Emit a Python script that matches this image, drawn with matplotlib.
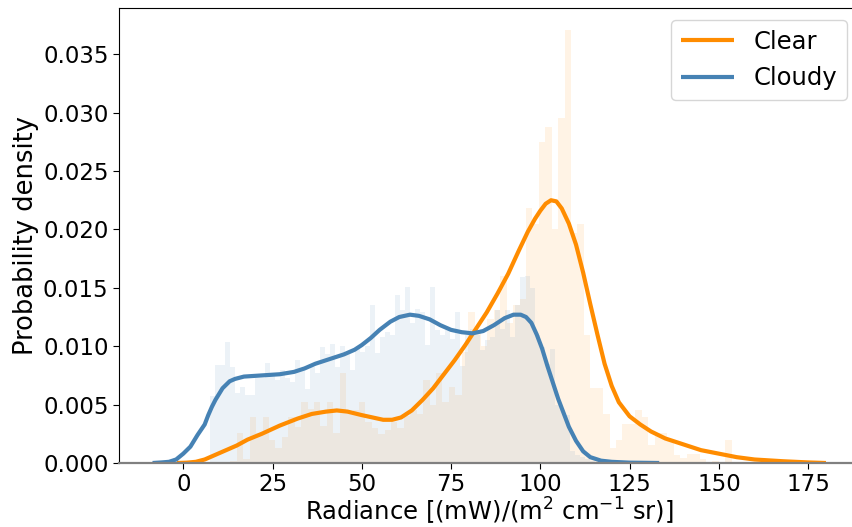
import numpy as np
import matplotlib.pyplot as plt

# histogram bar heights (probability density per bin)
clear_bin_start, clear_bin_width = 9.6, 1.8
clear_hist = [
    0.0000, 0.0000, 0.0002, 0.0026, 0.0003, 0.0039, 0.0026, 0.0039, 0.0020, 0.0013,
    0.0022, 0.0039, 0.0031, 0.0052, 0.0046, 0.0052, 0.0032, 0.0052, 0.0026, 0.0077,
    0.0043, 0.0045, 0.0052, 0.0035, 0.0030, 0.0025, 0.0028, 0.0035, 0.0030, 0.0040,
    0.0045, 0.0042, 0.0071, 0.0050, 0.0077, 0.0052, 0.0065, 0.0058, 0.0095, 0.0129,
    0.0114, 0.0100, 0.0123, 0.0131, 0.0160, 0.0120, 0.0135, 0.0140, 0.0218, 0.0205,
    0.0275, 0.0288, 0.0200, 0.0295, 0.0371, 0.0197, 0.0205, 0.0110, 0.0064, 0.0064,
    0.0042, 0.0013, 0.0020, 0.0033, 0.0033, 0.0045, 0.0039, 0.0015, 0.0026, 0.0026,
    0.0020, 0.0007, 0.0004, 0.0008, 0.0008, 0.0003, 0.0000, 0.0002, 0.0000, 0.0020,
]

cloudy_bin_start, cloudy_bin_width = 7.5, 1.4
cloudy_hist = [
    0.0057, 0.0084, 0.0084, 0.0104, 0.0082, 0.0060, 0.0065, 0.0058, 0.0058, 0.0073,
    0.0073, 0.0086, 0.0077, 0.0071, 0.0080, 0.0073, 0.0069, 0.0088, 0.0080, 0.0063,
    0.0082, 0.0077, 0.0099, 0.0093, 0.0102, 0.0082, 0.0100, 0.0093, 0.0080, 0.0099,
    0.0095, 0.0100, 0.0135, 0.0094, 0.0108, 0.0112, 0.0110, 0.0144, 0.0131, 0.0151,
    0.0120, 0.0132, 0.0129, 0.0101, 0.0151, 0.0114, 0.0110, 0.0114, 0.0106, 0.0129,
    0.0083, 0.0110, 0.0115, 0.0110, 0.0097, 0.0105, 0.0108, 0.0131, 0.0115, 0.0131,
    0.0108, 0.0135, 0.0159, 0.0160, 0.0150, 0.0110, 0.0099, 0.0085, 0.0098, 0.0050,
    0.0045, 0.0041, 0.0010, 0.0007, 0.0005, 0.0003, 0.0002, 0.0000, 0.0000, 0.0002,
]

# kernel density estimates
clear_kde_x = [
    -1.8, 1, 3.5, 6, 9, 12, 15, 18, 22, 27, 32, 36, 40, 43, 46, 50, 53, 56, 58.5, 61,
    64, 67, 70, 73, 76, 79, 82, 85, 88, 91, 94, 96.5, 98.5, 100, 101.5, 103, 104.5,
    106, 108, 110, 112, 114, 116, 118, 120, 122, 125, 128, 131, 135, 140, 145, 150,
    155, 160, 168, 175, 180,
]
clear_kde_y = [
    0.0, 0.00003, 0.0001, 0.0003, 0.0007, 0.0011, 0.0015, 0.0020, 0.0025, 0.0032,
    0.0038, 0.0042, 0.0044, 0.0045, 0.0044, 0.0041, 0.0039, 0.0037, 0.0037, 0.0039,
    0.0045, 0.0054, 0.0064, 0.0076, 0.0088, 0.0101, 0.0115, 0.0129, 0.0145, 0.0162,
    0.0182, 0.0198, 0.0209, 0.0216, 0.0222, 0.0225, 0.0224, 0.0218, 0.0205, 0.0187,
    0.0163, 0.0136, 0.0110, 0.0085, 0.0066, 0.0052, 0.0040, 0.0033, 0.0027, 0.0021,
    0.0016, 0.0011, 0.0008, 0.0005, 0.0003, 0.00015, 0.00005, 0.0,
]

cloudy_kde_x = [
    -8.6, -6, -4, -2, 0, 2, 4, 6, 7, 8, 9, 10, 11, 12, 13, 14.5, 17, 22, 27, 31, 34,
    37, 41, 45, 48, 50, 52.5, 55, 58, 60.5, 63.5, 66, 69, 72, 75, 78, 81, 84, 87, 90,
    92.5, 94.5, 96, 97.5, 99, 100.5, 102, 103.5, 105, 106.5, 108, 110, 112, 114, 117,
    120, 125, 133.3,
]
cloudy_kde_y = [
    0.0, 0.00005, 0.0001, 0.0003, 0.0008, 0.0014, 0.0024, 0.0033, 0.0041, 0.0048,
    0.0054, 0.0059, 0.0064, 0.0067, 0.0070, 0.0072, 0.0074, 0.0075, 0.0076, 0.0078,
    0.0081, 0.0085, 0.0089, 0.0093, 0.0097, 0.0101, 0.0107, 0.0114, 0.0121, 0.0125,
    0.0127, 0.0126, 0.0123, 0.0118, 0.0114, 0.0112, 0.0111, 0.0113, 0.0118, 0.0124,
    0.0127, 0.0127, 0.0125, 0.0120, 0.0110, 0.0098, 0.0083, 0.0069, 0.0055, 0.0043,
    0.0031, 0.0019, 0.0010, 0.0005, 0.0002, 0.0001, 0.00003, 0.0,
]

clear_color = "darkorange"
cloudy_color = "steelblue"

fig = plt.figure(figsize=(8.53, 5.27), dpi=100)
# the right spine sits just past the figure edge
ax = fig.add_axes([119 / 853, 64 / 527, 740.5 / 853, 455 / 527])

clear_left = clear_bin_start + clear_bin_width * np.arange(len(clear_hist))
cloudy_left = cloudy_bin_start + cloudy_bin_width * np.arange(len(cloudy_hist))
ax.bar(clear_left, clear_hist, width=clear_bin_width, align="edge",
       color=clear_color, alpha=0.1, linewidth=0)
ax.bar(cloudy_left, cloudy_hist, width=cloudy_bin_width, align="edge",
       color=cloudy_color, alpha=0.1, linewidth=0)

ax.plot(clear_kde_x, clear_kde_y, color=clear_color, lw=3, label="Clear",
        solid_joinstyle="round", solid_capstyle="butt")
ax.plot(cloudy_kde_x, cloudy_kde_y, color=cloudy_color, lw=3, label="Cloudy",
        solid_joinstyle="round", solid_capstyle="butt")

ax.set_xlim(-18.0, 189.4)
ax.set_ylim(0, 0.03896)
ax.set_xticks([0, 25, 50, 75, 100, 125, 150, 175])
ax.set_yticks(np.arange(0, 0.0351, 0.005))
ax.yaxis.set_major_formatter(plt.FormatStrFormatter("%.3f"))
ax.tick_params(labelsize=16.5, length=4)
ax.spines["bottom"].set_color("#808080")
ax.spines["bottom"].set_linewidth(1.6)

ax.set_xlabel(r"Radiance [(mW)/(m$^2$ cm$^{-1}$ sr)]", fontsize=17.5, labelpad=0)
ax.set_ylabel("Probability density", fontsize=18.5, labelpad=3)
ax.legend(loc="upper right", fontsize=17.5, handlelength=2.2)

fig.savefig("out.png", dpi=100)
